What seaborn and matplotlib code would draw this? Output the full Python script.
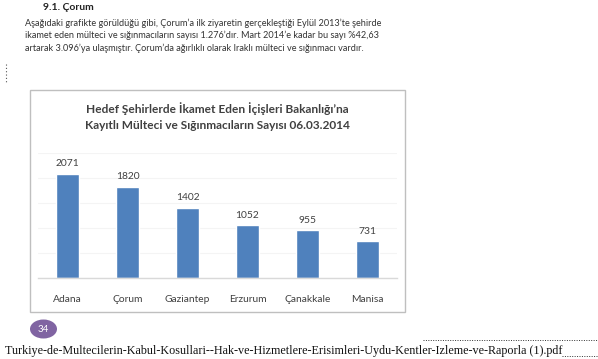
import matplotlib
matplotlib.use('Agg')
import matplotlib.pyplot as plt
import pandas as pd
import seaborn as sns
from matplotlib.patches import Rectangle, Ellipse
from matplotlib.lines import Line2D

# Chart data
cities = ['Adana', 'Çorum', 'Gaziantep', 'Erzurum', 'Çanakkale', 'Manisa']
counts = [2071, 1820, 1402, 1052, 955, 731]

heading = '9.1. Çorum'
paragraph = [
    'Aşağıdaki grafikte görüldüğü gibi, Çorum’a ilk ziyaretin gerçekleştiği Eylül 2013’te şehirde',
    'ikamet eden mülteci ve sığınmacıların sayısı 1.276’dır. Mart 2014’e kadar bu sayı %42,63',
    'artarak 3.096’ya ulaşmıştır. Çorum’da ağırlıklı olarak Iraklı mülteci ve sığınmacı vardır.',
]
chart_title = 'Hedef Şehirlerde İkamet Eden İçişleri Bakanlığı’na\nKayıtlı Mülteci ve Sığınmacıların Sayısı 06.03.2014'
page_no = '34'
file_name = 'Turkiye-de-Multecilerin-Kabul-Kosullari--Hak-ve-Hizmetlere-Erisimleri-Uydu-Kentler-Izleme-ve-Raporla (1).pdf'

df = pd.DataFrame({'city': cities, 'count': counts})

sns.set_style('white')
plt.rcParams['font.family'] = ['Lato', 'DejaVu Sans']

W, H = 598, 359
fig = plt.figure(figsize=(W / 100, H / 100), dpi=100)


def fx(x):
    return x / W


def fy(y):
    return 1 - y / H


# Document text
fig.text(fx(43), fy(7), heading, fontsize=7.5, fontweight='bold', va='center', color='#222222')
for i, line in enumerate(paragraph):
    fig.text(fx(25), fy(23 + 12.5 * i), line, fontsize=6.6, va='center', color='#333333')

# dotted margin mark
fig.add_artist(Line2D([fx(6), fx(6)], [fy(64), fy(84)], color='#555555', lw=0.8,
                      linestyle=(0, (1, 2))))

# Chart frame (behind the axes)
frame = Rectangle((fx(30), fy(312)), fx(405) - fx(30), fy(90) - fy(312),
                  facecolor='white', edgecolor='#bfbfbf', lw=1, zorder=-5)
fig.add_artist(frame)
fig.text(fx(217.5), fy(116.5), chart_title, fontsize=8.6, fontweight='bold',
         ha='center', va='center', color='#404040', linespacing=1.5)

# Bar chart
ax = fig.add_axes([fx(37.5), fy(278), fx(397.5) - fx(37.5), fy(152.5) - fy(278)])
ax.set_zorder(5)
sns.barplot(data=df, x='city', y='count', color='#4F81BD', width=0.39, saturation=1, ax=ax)
ax.set_ylim(0, 2500)
ax.set_yticks(range(0, 2501, 500))
ax.yaxis.grid(True, color='#f4f4f4', lw=0.8)
ax.set_axisbelow(True)
ax.patch.set_alpha(0)
for s in ['top', 'right', 'left']:
    ax.spines[s].set_visible(False)
ax.spines['bottom'].set_color('#d9d9d9')
ax.spines['bottom'].set_linewidth(1)
ax.tick_params(axis='y', left=False, labelleft=False)
ax.tick_params(axis='x', bottom=False, pad=9, labelsize=7.4, labelcolor='#404040')
ax.set_xlabel('')
ax.set_ylabel('')
ax.bar_label(ax.containers[0], padding=4, fontsize=7.4, color='#404040')

# Page number badge
fig.add_artist(Ellipse((fx(43.5), fy(329)), fx(27), 19 / H, facecolor='#8064A2', edgecolor='none'))
fig.text(fx(43.5), fy(329), page_no, fontsize=7, color='white', ha='center', va='center')

# File name footer
fig.text(fx(5), fy(351), file_name, fontsize=8.7, family='Liberation Serif', va='center', color='#111111')
fig.add_artist(Line2D([fx(423), fx(598)], [fy(340), fy(340)], color='#333333', lw=0.7,
                      linestyle=(0, (1, 1.5))))
fig.add_artist(Line2D([fx(562), fx(598)], [fy(356), fy(356)], color='#333333', lw=0.7,
                      linestyle=(0, (1, 1.5))))

fig.savefig('out.png', dpi=100)
